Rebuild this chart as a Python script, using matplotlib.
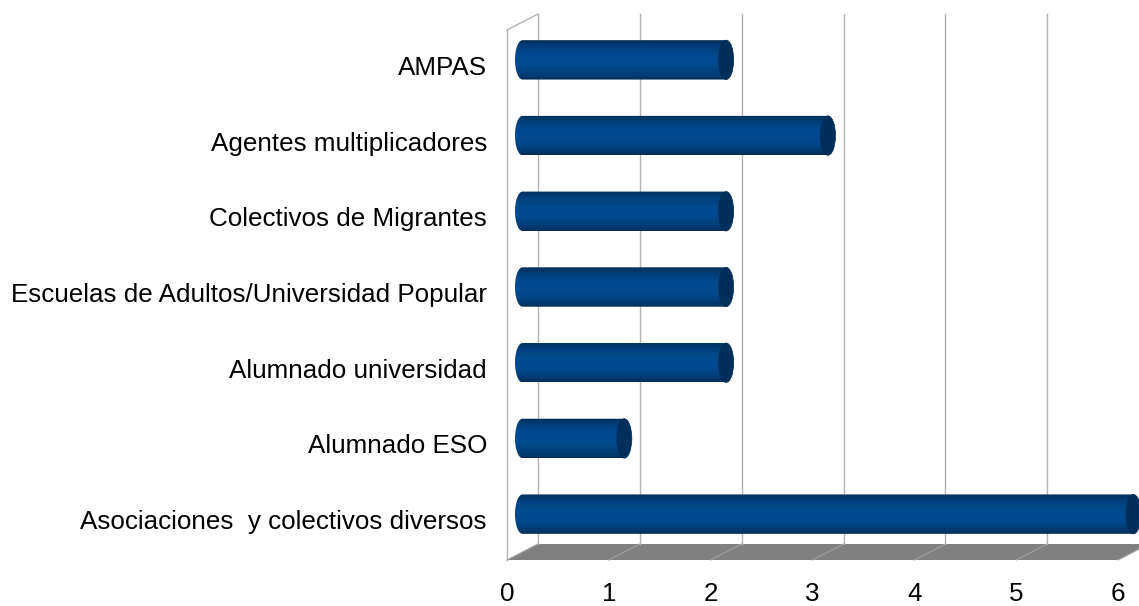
import numpy as np
import matplotlib
matplotlib.use("Agg")
import matplotlib.pyplot as plt
from matplotlib.patches import Polygon, Ellipse, PathPatch
from matplotlib.path import Path

categories = ["AMPAS", "Agentes multiplicadores", "Colectivos de Migrantes",
              "Escuelas de Adultos/Universidad Popular", "Alumnado universidad",
              "Alumnado ESO", "Asociaciones  y colectivos diversos"]
values = [2, 3, 2, 2, 2, 1, 6]
xticks = [0, 1, 2, 3, 4, 5, 6]

plt.rcParams['font.family'] = ['Liberation Sans', 'DejaVu Sans']

W, H = 1139, 606
fig = plt.figure(figsize=(W / 100, H / 100), dpi=100)
# axes extends to the right edge so the last cylinder is not cut off
ax = fig.add_axes([507 / W, 46 / H, (W - 507) / W, 530 / H])
n = len(categories)
XMIN, XMAX = 0, 6
ppx = 611 / (XMAX - XMIN)
XVIEW = (W - 507) / ppx
YMIN, YMAX = -0.5, n - 0.5
ppy = 530 / (YMAX - YMIN)
ax.axis('off')

# depth in pixels -> data units
DXP, DYP = 31, 16
dx, dy = DXP / ppx, DYP / ppy

grid_c = '#b3b3b3'
# floor
floor = Polygon([(XMIN, YMIN), (XMAX, YMIN), (XMAX + dx, YMIN + dy), (XMIN + dx, YMIN + dy)],
                closed=True, facecolor='#808080', edgecolor='none', clip_on=False, zorder=1)
ax.add_patch(floor)
for k in xticks:
    ax.plot([k, k + dx], [YMIN, YMIN + dy], color='#a0a0a0', lw=0.8, clip_on=False, zorder=1.5)
    ax.plot([k + dx, k + dx], [YMIN + dy, YMAX + dy], color=grid_c, lw=1, clip_on=False, zorder=1)
# left wall
ax.plot([XMIN, XMIN], [YMIN, YMAX], color=grid_c, lw=1, clip_on=False, zorder=1)
ax.plot([XMIN, XMIN + dx], [YMAX, YMAX + dy], color=grid_c, lw=1, clip_on=False, zorder=1)

# bars (cylinders)
h = 0.26
e = 15 / ppx
prof = np.linspace(0, 1, 200)
shade = 0.55 + 0.45 * np.sin(np.pi * prof) ** 0.6
light = np.array([0x00, 0x4a, 0x8f]) / 255
grad = (light[None, :] * shade[:, None])[:, None, :]

for i, (cat, v) in enumerate(zip(categories, values)):
    y = (n - 1 - i) + dy / 2
    x0 = dx / 2
    x1 = v + dx / 2
    # body path: left half-ellipse + rectangle
    t = np.linspace(np.pi / 2, 3 * np.pi / 2, 40)
    lx = x0 + (e / 2) * np.cos(t)
    ly = y + h * np.sin(t)
    verts = list(zip(lx, ly)) + [(x1, y - h), (x1, y + h), (lx[0], ly[0])]
    path = Path(verts, closed=True)
    patch = PathPatch(path, facecolor='none', edgecolor='none', clip_on=False)
    ax.add_patch(patch)
    im = ax.imshow(grad, extent=[x0 - e / 2, x1, y - h, y + h], aspect='auto',
                   origin='lower', zorder=3, interpolation='bilinear')
    im.set_clip_path(patch)
    cap = Ellipse((x1, y), e, 2 * h, facecolor='#002f5c', edgecolor='#002a52',
                  lw=0.5, zorder=4, clip_on=False)
    ax.add_patch(cap)

ax.set_xlim(XMIN, XVIEW)
ax.set_ylim(YMIN, YMAX)

fs = 18.7
for i, cat in enumerate(categories):
    ax.annotate(cat, xy=(XMIN, n - 1 - i), xytext=(-20 * 0.72, 0), textcoords='offset points',
                ha='right', va='center', fontsize=fs, color='black', annotation_clip=False)
for k in xticks:
    ax.annotate(str(k), xy=(k, YMIN), xytext=(0, -34 * 0.72), textcoords='offset points',
                ha='center', va='center', fontsize=fs, color='black', annotation_clip=False)

fig.savefig('out.png', dpi=100)
